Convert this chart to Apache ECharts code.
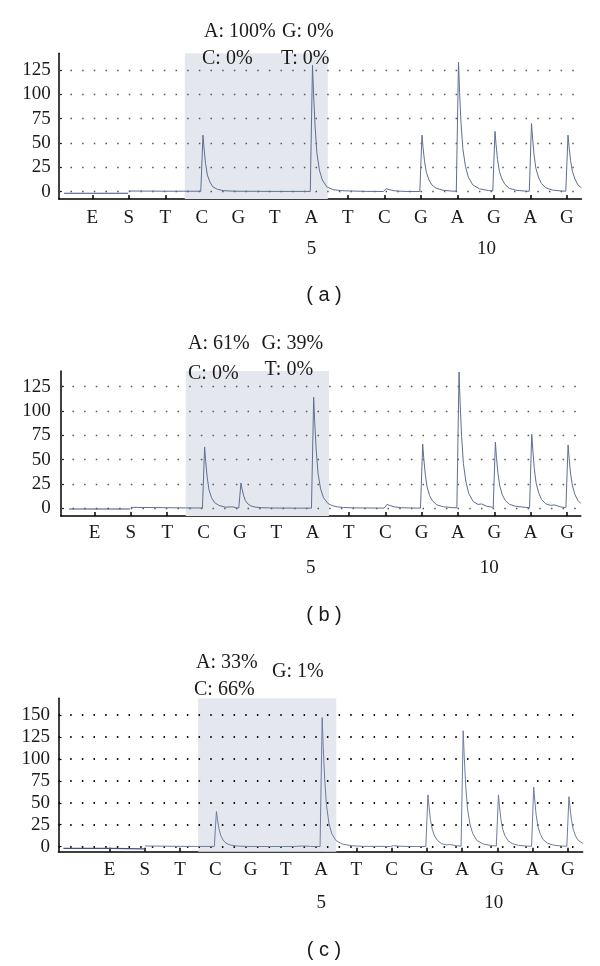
<!DOCTYPE html>
<html><head><meta charset="utf-8">
<script src="https://cdn.jsdelivr.net/npm/echarts@6/dist/echarts.min.js"></script>
<style>html,body{margin:0;padding:0;background:#fff}#c{width:600px;height:966px}</style>
</head><body><div id="c"></div>
<script>
// ---------- data ----------
const flowLetters = ['E','S','T','C','G','T','A','T','C','G','A','G','A','G'];
const flowPositions = [1,2,3,4,5,6,7,8,9,10,11,12,13,14];
const yTicksAB = [0,25,50,75,100,125];
const yTicksC = [0,25,50,75,100,125,150];
const numberLabels = ['5','10'];
const numberPosA = [7, 11.8];
const numberPosB = [6.95, 11.86];
const numberPosC = [7, 11.9];
const shadeA = [3.53, 7.45];
const shadeB = [3.51, 7.45];
const shadeC = [3.51, 7.43];
const annotA = ['A: 100%','G: 0%','C: 0%','T: 0%'];
const annotB = ['A: 61%','G: 39%','C: 0%','T: 0%'];
const annotC = ['A: 33%','G: 1%','C: 66%'];
const panelTitles = ['( a )','( b )','( c )'];

const preRunA = [[0.22,-1.6],[1.98,-1.6]];
const traceA = [
 [2.0,0.7],[2.5,0.6],[3.0,0.5],[3.5,0.5],[3.97,0.5],
 [4.0,0.5],[4.03,58],[4.06,44],[4.1,29],[4.15,17],[4.22,10],[4.3,5],[4.42,2.5],[4.6,1],[4.9,0.5],
 [5.5,0.4],[6.0,0.3],[6.97,0.3],
 [7.0,0.5],[7.03,130],[7.06,100],[7.1,68],[7.15,40],[7.22,22],[7.3,12],[7.42,5],[7.6,2],[7.85,1],
 [8.0,0.8],[8.5,0.3],[8.97,0.2],
 [9.0,0.3],[9.05,3],[9.15,2],[9.3,0.8],[9.6,0.2],[9.97,0.2],
 [10.0,0.2],[10.03,58],[10.06,45],[10.1,31],[10.15,20],[10.22,12],[10.3,7],[10.42,3.5],[10.6,1.5],[10.85,0.6],[10.97,0.5],
 [11.0,0.5],[11.03,133],[11.06,102],[11.1,70],[11.15,44],[11.22,26],[11.3,15],[11.42,7],[11.6,3],[11.85,1.2],[11.97,0.8],
 [12.0,0.8],[12.03,62],[12.06,48],[12.1,33],[12.15,21],[12.22,13],[12.3,7.5],[12.42,3.5],[12.6,1.5],[12.85,0.6],[12.97,0.5],
 [13.0,0.5],[13.03,70],[13.06,55],[13.1,38],[13.15,24],[13.22,15],[13.3,8.5],[13.42,4],[13.6,1.7],[13.85,0.7],[13.97,0.5],
 [14.0,0.5],[14.03,58],[14.06,46],[14.1,32],[14.15,21],[14.22,13],[14.3,7],[14.4,4]
];

const preRunB = [[0.3,-0.7],[1.98,-0.7]];
const traceB = [
 [2.0,1],[2.5,0.8],[3.0,0.6],[3.5,0.4],[3.97,0.3],
 [4.0,0.3],[4.03,63],[4.06,48],[4.1,32],[4.15,19],[4.22,11],[4.3,6],[4.42,3],[4.6,1.2],[4.8,1.5],[4.9,0.5],[4.97,0.4],
 [5.0,0.4],[5.03,26],[5.06,20],[5.1,13.5],[5.15,8],[5.22,4.5],[5.3,2.5],[5.42,1.2],[5.6,0.6],[5.9,0.3],
 [6.5,0.2],[6.97,0.2],
 [7.0,0.3],[7.03,114],[7.06,88],[7.1,60],[7.15,36],[7.22,20],[7.3,11],[7.42,5],[7.56,2.5],[7.6,3],[7.68,1.5],[7.85,0.8],[8.2,0.4],[8.97,0.2],
 [9.0,0.3],[9.05,4],[9.12,3],[9.25,1.5],[9.45,0.6],[9.7,0.3],[9.97,0.2],
 [10.0,0.2],[10.03,66],[10.06,51],[10.1,35],[10.15,22],[10.22,13],[10.3,7.5],[10.42,3.5],[10.6,1.6],[10.85,0.7],[10.97,0.5],
 [11.0,0.5],[11.03,140],[11.06,108],[11.1,74],[11.15,46],[11.22,27],[11.3,15],[11.42,7],[11.55,4],[11.65,4.5],[11.8,2],[11.97,1],
 [12.0,1],[12.03,68],[12.06,52],[12.1,36],[12.15,23],[12.22,14],[12.3,8],[12.42,4],[12.6,2],[12.85,1],[12.97,0.6],
 [13.0,0.6],[13.03,76],[13.06,60],[13.1,41],[13.15,26],[13.22,16],[13.3,9],[13.42,4.5],[13.55,3],[13.65,3.5],[13.85,1.2],[13.97,0.8],
 [14.0,0.8],[14.03,65],[14.06,51],[14.1,35],[14.15,23],[14.22,14],[14.3,8],[14.38,5]
];

const preRunC = [[-0.31,-2],[1.0,-2],[1.98,-2.5]];
const traceC = [
 [2.0,0.8],[2.5,0.6],[3.0,0.4],[3.5,0.3],[3.97,0.3],
 [4.0,0.3],[4.03,40],[4.06,31],[4.1,21],[4.15,13],[4.22,7.5],[4.3,4],[4.42,2],[4.6,0.8],[4.9,0.3],
 [5.5,0.2],[6.2,0.2],[6.5,0.8],[6.7,0.3],[6.97,0.2],
 [7.0,0.3],[7.03,147],[7.06,113],[7.1,78],[7.15,48],[7.22,27],[7.3,15],[7.42,7],[7.6,3],[7.85,1.2],[8.2,0.4],[8.97,0.3],
 [9.0,0.3],[9.05,1.2],[9.2,0.6],[9.5,0.2],[9.97,0.2],
 [10.0,0.2],[10.03,59],[10.06,46],[10.1,31],[10.15,20],[10.22,12],[10.3,7],[10.42,3.5],[10.55,2],[10.65,2.5],[10.85,1],[10.97,0.6],
 [11.0,0.6],[11.03,132],[11.06,102],[11.1,70],[11.15,44],[11.22,26],[11.3,15],[11.42,7],[11.6,3],[11.85,1.2],[11.97,0.8],
 [12.0,0.8],[12.03,59],[12.06,46],[12.1,31],[12.15,20],[12.22,12],[12.3,7],[12.42,3.5],[12.6,1.5],[12.85,0.6],[12.97,0.5],
 [13.0,0.5],[13.03,68],[13.06,53],[13.1,36],[13.15,23],[13.22,14],[13.3,8],[13.42,4],[13.6,1.7],[13.85,0.7],[13.97,0.5],
 [14.0,0.5],[14.03,57],[14.06,45],[14.1,31],[14.15,20],[14.22,12],[14.3,7],[14.42,4]
];

// ---------- layout ----------
const panels = [
 {grid:{left:58.8, top:53.3, width:522.7, height:145.7}, xMin:0.08, xMax:14.40, yMin:-7.5, yMax:142,
  yTicks:yTicksAB, shade:shadeA, pre:preRunA, trace:traceA, nums:numberPosA,
  catMargin:9.5, numMargin:40.5, yMargin:8, dot:{color:'#555', width:1.4}, lineColor:'#5f6e92',
  annot:annotA, annotPos:[[204,31.5],[282,31.5],[202,58.5],[281,58.5]], title:[324,295]},
 {grid:{left:60.8, top:371, width:520, height:145}, xMin:0.073, xMax:14.38, yMin:-7.9, yMax:141,
  yTicks:yTicksAB, shade:shadeB, pre:preRunB, trace:traceB, nums:numberPosB,
  catMargin:7.5, numMargin:42.5, yMargin:10, dot:{color:'#555', width:1.4}, lineColor:'#5f6e92',
  annot:annotB, annotPos:[[188,343.3],[261.5,343.3],[188,373.3],[264.6,369.3]], title:[324,615]},
 {grid:{left:58.5, top:698.3, width:524.2, height:153.4}, xMin:-0.45, xMax:14.42, yMin:-5.7, yMax:169,
  yTicks:yTicksC, shade:shadeC, pre:preRunC, trace:traceC, nums:numberPosC,
  catMargin:8.5, numMargin:42, yMargin:8.5, dot:{color:'#111', width:2}, lineColor:'#6e7ca0',
  annot:annotC, annotPos:[[196,662.7],[272,671.7],[194,690]], title:[324,950]}
];

const serif = '"Liberation Serif", "DejaVu Serif", serif';
const grids = [], xAxes = [], yAxes = [], series = [], graphics = [];
panels.forEach((p, i) => {
  grids.push(p.grid);
  xAxes.push({
    type:'value', gridIndex:i, min:p.xMin, max:p.xMax,
    axisLine:{show:true, onZero:false, lineStyle:{color:'#000', width:1.5}},
    axisTick:{show:true, inside:true, length:4, customValues:flowPositions, lineStyle:{color:'#000', width:1.5}},
    axisLabel:{show:true, customValues:flowPositions, margin:p.catMargin, fontFamily:serif, fontSize:19, color:'#1a1a1a',
      formatter:(v)=>flowLetters[flowPositions.indexOf(v)]},
    splitLine:{show:false}
  });
  xAxes.push({
    type:'value', gridIndex:i, min:p.xMin, max:p.xMax, position:'bottom',
    axisLine:{show:false, onZero:false}, axisTick:{show:false}, splitLine:{show:false},
    axisLabel:{show:true, customValues:p.nums, margin:p.numMargin, fontFamily:serif, fontSize:19, color:'#1a1a1a',
      formatter:(v)=>numberLabels[p.nums.indexOf(v)]}
  });
  yAxes.push({
    type:'value', gridIndex:i, min:p.yMin, max:p.yMax,
    axisLine:{show:true, onZero:false, lineStyle:{color:'#000', width:1.5}},
    axisTick:{show:true, inside:true, length:3, customValues:p.yTicks, lineStyle:{color:'#000', width:1.2}},
    axisLabel:{show:true, customValues:p.yTicks, margin:p.yMargin, fontFamily:serif, fontSize:19, color:'#1a1a1a'},
    splitLine:{show:false}
  });
  series.push({
    type:'line', xAxisIndex:2*i, yAxisIndex:i, data:[], silent:true, z:1,
    markArea:{silent:true, z:0.5, itemStyle:{color:'#e4e8ee'}, data:[[{xAxis:p.shade[0]},{xAxis:p.shade[1]}]]},
    markLine:{silent:true, z:1, symbol:['none','none'], label:{show:false},
      lineStyle:{type:[1.5, 10.17], color:p.dot.color, width:p.dot.width},
      data:p.yTicks.map(v=>({yAxis:v}))}
  });
  series.push({
    type:'line', xAxisIndex:2*i, yAxisIndex:i, data:p.pre, showSymbol:false, z:3,
    lineStyle:{color:'#3f5088', width:1.2}
  });
  series.push({
    type:'line', xAxisIndex:2*i, yAxisIndex:i, data:p.trace, showSymbol:false, z:3,
    lineStyle:{color:p.lineColor, width:1}
  });
  p.annot.forEach((t, k) => {
    graphics.push({type:'text', x:p.annotPos[k][0], y:p.annotPos[k][1], z:10,
      style:{text:t, font:'20px ' + serif, fill:'#1a1a1a', align:'left', verticalAlign:'middle'}});
  });
  graphics.push({type:'text', x:p.title[0], y:p.title[1], z:10,
    style:{text:panelTitles[i], font:'20px "Liberation Sans", Arial, sans-serif', fill:'#1a1a1a', align:'center', verticalAlign:'middle'}});
});

const chart = echarts.init(document.getElementById('c'), null, {renderer:'canvas'});
chart.setOption({
  animation:false, backgroundColor:'#fff',
  grid:grids, xAxis:xAxes, yAxis:yAxes, series:series, graphic:graphics
});
</script></body></html>
